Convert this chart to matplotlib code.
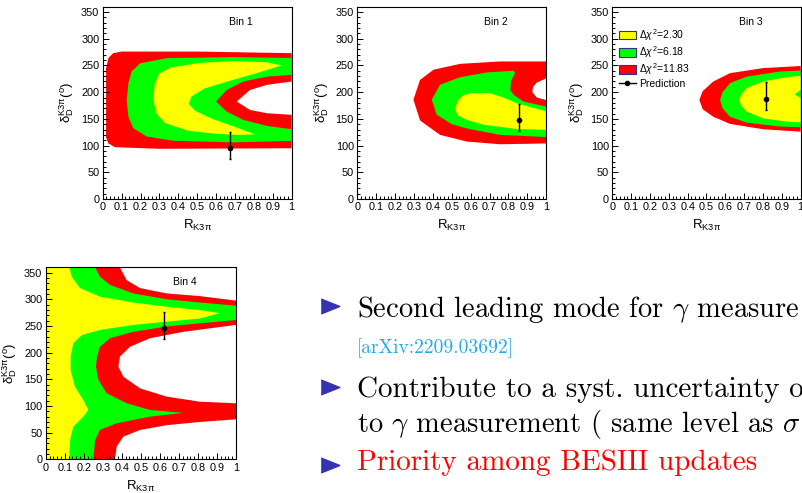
import numpy as np
import matplotlib
matplotlib.use('Agg')
import matplotlib.pyplot as plt
from matplotlib.ticker import MultipleLocator
from matplotlib.patches import Patch
from matplotlib.lines import Line2D

# Fontes: Helvetica (ROOT) -> Liberation Sans; slide em Computer Modern
plt.rcParams['font.family'] = 'Liberation Sans'
plt.rcParams['mathtext.fontset'] = 'custom'
plt.rcParams['mathtext.rm'] = 'Liberation Sans'
plt.rcParams['mathtext.it'] = 'Liberation Sans:italic'
plt.rcParams['mathtext.bf'] = 'Liberation Sans:bold'

# Contornos: (R_K3pi, delta_D) para cada nivel de delta chi2
bin1_red_r = [1.0, 0.5, 0.1, 0.056, 0.03, 0.018, 0.018, 0.03, 0.065, 0.3, 1.0, 1.0, 0.868, 0.779, 0.709, 0.779, 0.868, 1.0]
bin1_red_d = [273, 276, 276, 273, 264, 245, 115, 104, 97, 94, 95, 157.5, 160.6, 166.8, 182.4, 204, 213.7, 220]
bin1_green_r = [1.0, 0.69, 0.339, 0.198, 0.153, 0.136, 0.127, 0.136, 0.162, 0.233, 0.374, 0.69, 1.0, 1.0, 0.868, 0.744, 0.656, 0.6, 0.656, 0.744, 0.868, 1.0]
bin1_green_d = [264, 265.6, 263.7, 254, 239, 217, 185, 154, 132.5, 117, 109, 106, 108.7, 130.6, 136.8, 148, 163.7, 182.4, 204, 220, 229, 232.5]
bin1_yellow_r = [0.947, 0.868, 0.69, 0.515, 0.36, 0.30, 0.275, 0.268, 0.285, 0.33, 0.45, 0.6, 0.72, 0.806, 0.70, 0.58, 0.49, 0.455, 0.47, 0.54, 0.66, 0.80]
bin1_yellow_d = [250, 256, 258, 255, 246, 235, 215, 185, 160, 142, 128, 122, 120, 121, 135, 150, 165, 178, 192, 207, 220, 234]

bin2_red_r = [1.0, 0.756, 0.544, 0.403, 0.332, 0.297, 0.332, 0.438, 0.58, 0.756, 1.0, 1.0, 0.95, 0.926, 0.93, 0.95, 1.0]
bin2_red_d = [257.5, 257.5, 253, 242, 223, 186, 147, 120, 107.5, 102.5, 104, 185, 190, 200, 210, 218, 226]
bin2_green_r = [0.827, 0.686, 0.544, 0.438, 0.394, 0.42, 0.50, 0.58, 0.756, 1.0, 1.0, 0.88, 0.827, 0.809, 0.815, 0.835]
bin2_green_d = [240, 237, 228, 214, 186, 158, 140, 132, 120, 116, 173, 182.4, 195, 204.3, 222, 236]
bin2_yellow_r = [0.518, 0.53, 0.56, 0.6, 0.703, 0.78, 0.845, 1.0, 1.0, 0.845, 0.668, 0.58, 0.53]
bin2_yellow_d = [168, 183, 194, 198, 198, 189, 179, 164, 129.5, 131, 139, 148, 157]

bin3_red_r = [1.0, 0.80, 0.625, 0.536, 0.48, 0.462, 0.48, 0.536, 0.625, 0.80, 1.0]
bin3_red_d = [249, 245, 235.6, 220, 202, 185.6, 168, 154, 140.6, 130.6, 126]
bin3_green_r = [1.0, 0.89, 0.713, 0.625, 0.585, 0.572, 0.585, 0.625, 0.713, 0.89, 1.0]
bin3_green_d = [240.5, 238.7, 229, 217, 200, 185.6, 170, 154, 143, 135.6, 134.4]
bin3_yellow_r = [1.0, 0.926, 0.80, 0.713, 0.685, 0.674, 0.685, 0.713, 0.80, 0.926, 1.0, 1.0, 0.968, 1.0]
bin3_yellow_d = [230.6, 228, 220, 207.5, 196, 185.6, 174, 163.7, 151, 145, 143.7, 189, 196, 204]

bin4_red_r = [0, 0.364, 0.373, 0.408, 0.496, 0.636, 0.811, 1.0, 1.0, 0.81, 0.636, 0.496, 0.408, 0.382, 0.39, 0.443, 0.548, 0.723, 1.0, 1.0, 0.81, 0.636, 0.496, 0.425, 0.39, 0]
bin4_red_d = [0, 0, 24, 42.5, 55, 64, 70, 75, 105, 108, 117.5, 133, 155, 174, 192.5, 211, 227, 239, 252, 297.5, 306, 311, 321, 336, 360, 360]
bin4_green_r = [0, 0.25, 0.26, 0.285, 0.373, 0.548, 0.723, 0.548, 0.426, 0.32, 0.277, 0.264, 0.27, 0.285, 0.338, 0.46, 0.636, 0.81, 1.0, 1.0, 0.81, 0.636, 0.46, 0.338, 0.285, 0.26, 0]
bin4_green_d = [0, 0, 36, 55, 67.5, 80, 87, 92.5, 105, 124, 149, 174, 192, 211, 227, 239, 249, 255, 261, 288, 294, 300, 311, 327, 342.5, 360, 360]
bin4_yellow_r = [0, 0.124, 0.128, 0.145, 0.198, 0.224, 0.198, 0.154, 0.131, 0.131, 0.145, 0.19, 0.285, 0.46, 0.636, 0.81, 0.916, 0.81, 0.636, 0.46, 0.285, 0.18, 0.137, 0.124, 0]
bin4_yellow_d = [0, 0, 36, 61, 80, 92.5, 111, 136, 167.5, 192.5, 217.5, 233, 242.5, 252, 258, 264, 274, 280, 286, 294, 305, 321, 342.5, 360, 360]

# Predicoes com barras de erro assimetricas
pred_r = [0.674, 0.853, 0.816, 0.623]
pred_d = [95, 147, 187.5, 245.6]
pred_err_low = [20, 20, 20, 20]
pred_err_high = [31, 31, 31, 31]

bin_names = ['Bin 1', 'Bin 2', 'Bin 3', 'Bin 4']
legend_labels = [r'$\Delta\chi^{2}$=2.30', r'$\Delta\chi^{2}$=6.18', r'$\Delta\chi^{2}$=11.83', 'Prediction']
x_tick_labels = ['0', '0.1', '0.2', '0.3', '0.4', '0.5', '0.6', '0.7', '0.8', '0.9', '1']

contours = [
    [(bin1_red_r, bin1_red_d), (bin1_green_r, bin1_green_d), (bin1_yellow_r, bin1_yellow_d)],
    [(bin2_red_r, bin2_red_d), (bin2_green_r, bin2_green_d), (bin2_yellow_r, bin2_yellow_d)],
    [(bin3_red_r, bin3_red_d), (bin3_green_r, bin3_green_d), (bin3_yellow_r, bin3_yellow_d)],
    [(bin4_red_r, bin4_red_d), (bin4_green_r, bin4_green_d), (bin4_yellow_r, bin4_yellow_d)],
]
cores = ['#ff0000', '#00ff00', '#ffff00']

W, H = 803, 493
fig = plt.figure(figsize=(W / 100, H / 100), dpi=100)

# posicoes dos paineis em pixels (esquerda, topo, largura, altura)
caixas = [(102.7, 6.7, 189, 192.3), (357.3, 6.7, 189, 192.3),
          (612.3, 6.7, 188.4, 192.3), (45.7, 267.3, 190.3, 192)]

for i in range(4):
    x0, y0, w, h = caixas[i]
    ax = fig.add_axes([x0 / W, 1 - (y0 + h) / H, w / W, h / H])
    for (rr, dd), c in zip(contours[i], cores):
        ax.fill(rr, dd, color=c, lw=0)
    ax.errorbar([pred_r[i]], [pred_d[i]], yerr=[[pred_err_low[i]], [pred_err_high[i]]],
                fmt='o', color='black', ms=3, elinewidth=1, capsize=1)
    ax.set_xlim(0, 1)
    ax.set_ylim(0, 360)
    ax.set_xticks(np.linspace(0, 1, 11))
    ax.set_xticklabels(x_tick_labels)
    ax.xaxis.set_minor_locator(MultipleLocator(0.02))
    ax.set_yticks(range(0, 351, 50))
    ax.yaxis.set_minor_locator(MultipleLocator(10))
    ax.tick_params(which='both', direction='in', labelsize=7.8, pad=2.5, width=0.7)
    ax.tick_params(which='major', length=4)
    ax.tick_params(which='minor', length=2)
    for s in ax.spines.values():
        s.set_linewidth(0.8)
    ax.set_xlabel(r'$\mathrm{R_{K3\pi}}$', fontsize=9.5)
    ax.xaxis.set_label_coords(0.5, -0.1)
    ax.set_ylabel(r'$\mathrm{\delta_{D}^{K3\pi}(^{o})}$', fontsize=9.5)
    ax.yaxis.set_label_coords(-0.14, 0.5)
    ax.text(0.67, 332, bin_names[i], fontsize=7.5, va='center')
    if i == 2:
        handles = [Patch(fc=cores[2], ec='#303090', lw=0.8),
                   Patch(fc=cores[1], ec='#303090', lw=0.8),
                   Patch(fc=cores[0], ec='#303090', lw=0.8),
                   Line2D([], [], color='black', marker='o', ms=3, lw=1)]
        ax.legend(handles, legend_labels, loc='upper left', bbox_to_anchor=(0.035, 0.895),
                  frameon=False, fontsize=7.5, handlelength=1.6, handleheight=0.9,
                  labelspacing=0.15, handletextpad=0.3, borderpad=0, borderaxespad=0)

# Texto do slide (termina na borda direita como no original)
azul = '#3333b3'
def marcador(x, y):
    fig.add_artist(Line2D([x / W], [1 - y / H], transform=fig.transFigure, marker=[(-1, -0.8), (1, 0), (-1, 0.8)],
                          ms=13.4, color=azul, lw=0))

def linha(x, y, s, size=21, cor='black'):
    fig.text(x / W, 1 - y / H, s, fontsize=size, color=cor, va='baseline',
             family='cmr10', math_fontfamily='cm')

marcador(330, 306)
linha(356.7, 316.7, r'Second leading mode for $\gamma$ measure', size=20.6)
linha(357, 353, '[arXiv:2209.03692]', size=14, cor='#22aaee')
marcador(330, 386.7)
linha(356.7, 396.7, 'Contribute to a syst. uncertainty o')
linha(356.7, 431.7, r'to $\gamma$ measurement ( same level as $\sigma$', size=20.5)
marcador(330, 465)
linha(356.7, 470, 'Priority among BESIII updates', cor='#ff0000')

plt.savefig('out.png', dpi=100)
